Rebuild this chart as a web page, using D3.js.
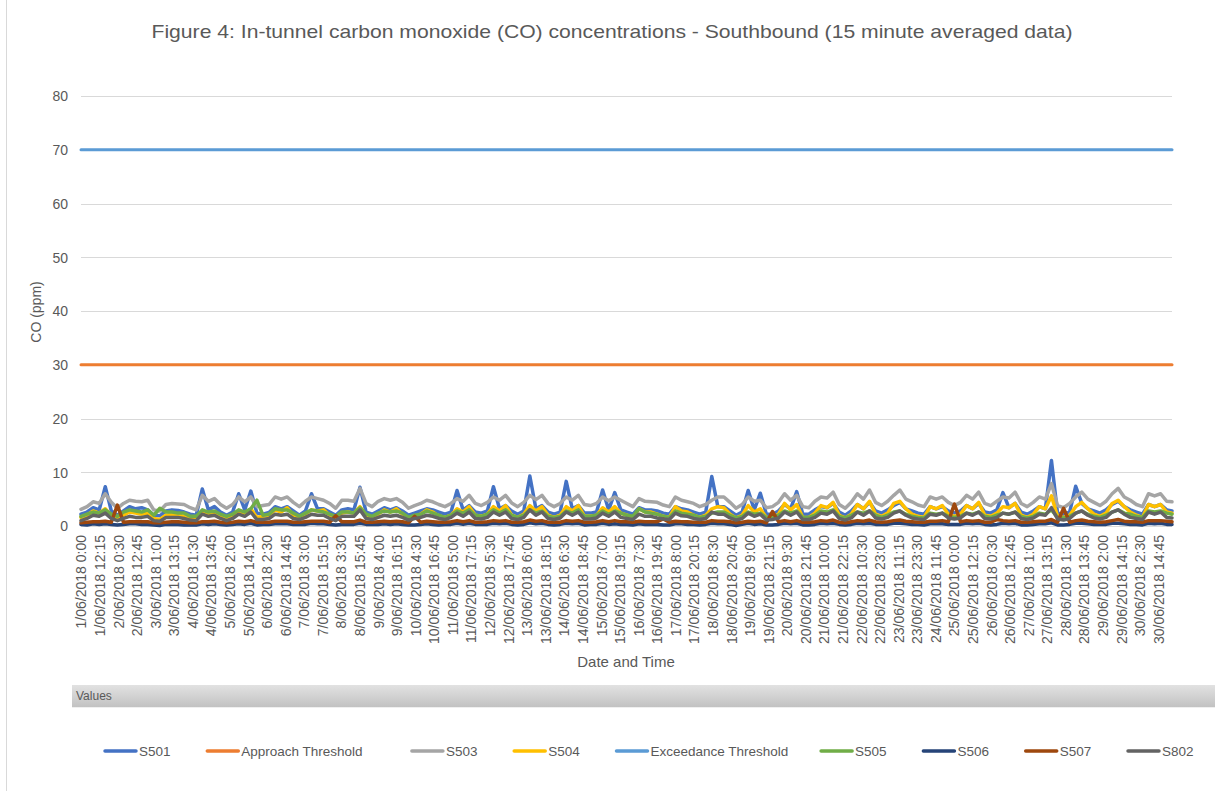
<!DOCTYPE html>
<html>
<head>
<meta charset="utf-8">
<script src="https://cdnjs.cloudflare.com/ajax/libs/d3/7.8.5/d3.min.js"></script>
<style>
    body { margin: 0; background: #fff; }
    text { font-family: "Liberation Sans", Arial, sans-serif; fill: #595959; }
</style>
</head>
<body>
<div id="chart"></div>
<script>
// x axis tick labels (one every 49 samples of 15 minutes)
var tickLabels = [
    "1/06/2018 0:00", "1/06/2018 12:15", "2/06/2018 0:30", "2/06/2018 12:45", "3/06/2018 1:00",
    "3/06/2018 13:15", "4/06/2018 1:30", "4/06/2018 13:45", "5/06/2018 2:00", "5/06/2018 14:15",
    "6/06/2018 2:30", "6/06/2018 14:45", "7/06/2018 3:00", "7/06/2018 15:15", "8/06/2018 3:30",
    "8/06/2018 15:45", "9/06/2018 4:00", "9/06/2018 16:15", "10/06/2018 4:30", "10/06/2018 16:45",
    "11/06/2018 5:00", "11/06/2018 17:15", "12/06/2018 5:30", "12/06/2018 17:45", "13/06/2018 6:00",
    "13/06/2018 18:15", "14/06/2018 6:30", "14/06/2018 18:45", "15/06/2018 7:00", "15/06/2018 19:15",
    "16/06/2018 7:30", "16/06/2018 19:45", "17/06/2018 8:00", "17/06/2018 20:15", "18/06/2018 8:30",
    "18/06/2018 20:45", "19/06/2018 9:00", "19/06/2018 21:15", "20/06/2018 9:30", "20/06/2018 21:45",
    "21/06/2018 10:00", "21/06/2018 22:15", "22/06/2018 10:30", "22/06/2018 23:00", "23/06/2018 11:15",
    "23/06/2018 23:30", "24/06/2018 11:45", "25/06/2018 0:00", "25/06/2018 12:15", "26/06/2018 0:30",
    "26/06/2018 12:45", "27/06/2018 1:00", "27/06/2018 13:15", "28/06/2018 1:30", "28/06/2018 13:45",
    "29/06/2018 2:00", "29/06/2018 14:15", "30/06/2018 2:30", "30/06/2018 14:45"
];
var yTicks = [0, 10, 20, 30, 40, 50, 60, 70, 80];

// readings every 4 hours (0:00, 4:00, 8:00, 12:00, 16:00, 20:00), 1 June 0:00 to 30 June end
var stepHours = 4;
var s501 = [
    2.2, 2.6, 3.4, 3.0, 7.3, 2.8,  2.0, 2.8, 3.6, 3.2, 3.4, 3.0,  2.0, 1.9, 2.8, 3.0, 2.9, 2.6,
    2.2, 2.0, 6.9, 3.0, 3.6, 2.6,  2.0, 2.6, 6.0, 3.0, 6.5, 2.4,  2.2, 2.5, 3.6, 3.2, 3.6, 2.8,
    2.0, 2.8, 6.0, 3.2, 3.2, 2.6,  2.0, 3.0, 3.2, 3.0, 7.2, 2.6,  2.2, 2.8, 3.4, 3.0, 3.4, 2.8,
    2.0, 2.4, 2.8, 3.2, 3.0, 2.6,  2.2, 2.6, 6.6, 3.0, 3.8, 2.6,  2.4, 2.8, 7.3, 3.2, 3.8, 2.8,
    2.2, 2.8, 9.3, 3.2, 3.8, 2.6,  2.2, 2.6, 8.3, 3.2, 3.8, 2.4,  2.4, 2.6, 6.7, 3.0, 6.2, 3.0,
    2.6, 2.2, 3.4, 3.0, 3.0, 2.8,  2.4, 2.2, 3.6, 3.2, 3.0, 2.6,  2.2, 2.6, 9.2, 3.6, 3.6, 2.8,
    2.0, 2.6, 6.6, 3.0, 6.1, 2.2,  2.2, 2.8, 4.0, 3.2, 6.4, 2.2,  2.2, 3.0, 3.6, 3.4, 4.2, 2.6,
    2.0, 2.8, 4.0, 3.2, 4.4, 2.8,  2.4, 3.0, 3.8, 4.4, 3.2, 2.8,  2.4, 2.2, 3.6, 3.2, 3.6, 2.8,
    2.4, 2.8, 3.8, 3.2, 4.2, 2.6,  2.4, 3.0, 6.2, 3.4, 4.2, 2.6,  2.2, 2.8, 3.6, 3.2, 12.2, 2.4,
    2.2, 2.6, 7.4, 4.2, 3.2, 2.8,  2.4, 3.0, 4.0, 4.6, 3.6, 3.0,  2.6, 2.2, 4.0, 3.6, 4.0, 3.0,
    2.8
];
var s503 = [
    3.1, 3.6, 4.5, 4.2, 6.0, 4.4,  3.3, 4.2, 4.8, 4.6, 4.5, 4.8,  3.0, 2.8, 4.0, 4.2, 4.1, 4.0,
    3.4, 3.0, 5.7, 4.6, 5.1, 4.0,  3.3, 4.0, 5.4, 4.5, 5.4, 3.6,  3.8, 4.0, 5.4, 5.0, 5.4, 4.4,
    3.6, 4.6, 5.4, 5.1, 4.8, 4.2,  3.3, 4.8, 4.8, 4.6, 7.0, 4.2,  3.6, 4.6, 5.1, 4.8, 5.1, 4.4,
    3.3, 3.8, 4.2, 4.8, 4.5, 4.0,  3.6, 4.2, 5.1, 4.6, 5.7, 4.2,  3.8, 4.4, 5.4, 4.8, 5.7, 4.3,
    3.6, 4.4, 5.7, 4.9, 5.7, 4.2,  3.6, 4.2, 5.4, 4.8, 5.7, 4.0,  3.8, 4.2, 5.4, 4.7, 5.4, 4.8,
    4.2, 3.6, 5.1, 4.6, 4.5, 4.4,  3.9, 3.6, 5.4, 4.8, 4.5, 4.2,  3.6, 4.0, 4.8, 5.4, 5.4, 4.4,
    3.3, 4.0, 5.4, 4.6, 4.8, 3.4,  3.6, 4.4, 6.0, 4.8, 5.7, 3.6,  3.4, 4.6, 5.4, 5.2, 6.3, 4.0,
    3.3, 4.4, 6.0, 5.0, 6.7, 4.4,  3.8, 4.6, 5.7, 6.7, 5.0, 4.5,  3.9, 3.6, 5.4, 5.0, 5.4, 4.4,
    3.8, 4.4, 5.7, 5.0, 6.3, 4.2,  3.8, 4.6, 5.4, 5.2, 6.3, 4.2,  3.6, 4.4, 5.4, 5.0, 7.9, 3.8,
    3.4, 4.2, 5.4, 6.3, 5.0, 4.4,  3.8, 4.6, 6.0, 7.0, 5.4, 4.8,  4.0, 3.6, 6.0, 5.6, 6.0, 4.6,
    4.5
];
var s504 = [
    1.6, 2.0, 2.8, 2.4, 3.2, 2.0,  1.4, 2.0, 2.6, 2.4, 2.2, 2.4,  1.4, 1.2, 2.0, 2.2, 2.0, 1.8,
    1.6, 1.4, 2.8, 2.2, 2.6, 1.8,  1.6, 2.0, 2.8, 2.2, 3.2, 1.6,  1.8, 2.0, 3.0, 2.6, 3.4, 2.0,
    1.6, 2.2, 3.0, 2.8, 3.0, 2.0,  1.5, 2.4, 2.6, 2.4, 3.6, 2.0,  1.6, 2.2, 3.0, 2.6, 3.2, 2.2,
    1.5, 1.8, 2.2, 3.0, 2.6, 1.8,  1.6, 2.0, 3.2, 2.6, 3.6, 2.0,  1.8, 2.2, 3.6, 2.8, 3.8, 2.0,
    1.6, 2.2, 3.8, 2.8, 3.6, 2.0,  1.6, 2.0, 3.6, 2.8, 3.8, 1.8,  1.8, 2.0, 3.4, 2.6, 3.6, 2.4,
    2.0, 1.6, 3.2, 2.6, 2.6, 2.2,  1.8, 1.6, 3.6, 2.8, 2.6, 2.0,  1.6, 2.0, 3.2, 3.6, 3.4, 2.2,
    1.5, 2.0, 3.8, 2.6, 3.2, 1.6,  1.6, 2.2, 4.2, 3.0, 4.0, 1.6,  1.6, 2.4, 3.8, 3.4, 4.4, 2.0,
    1.5, 2.2, 4.0, 3.2, 4.6, 2.2,  1.8, 2.4, 4.2, 4.6, 3.2, 2.2,  1.8, 1.6, 3.6, 3.2, 3.8, 2.2,
    1.8, 2.2, 3.8, 3.2, 4.4, 2.0,  1.8, 2.4, 3.6, 3.4, 4.2, 2.0,  1.6, 2.2, 3.6, 3.2, 5.6, 1.8,
    1.6, 2.0, 3.6, 4.4, 3.2, 2.2,  1.8, 2.4, 4.2, 4.8, 3.6, 2.6,  2.0, 1.6, 4.0, 3.6, 4.0, 2.6,
    2.4
];
var s505 = [
    1.8, 2.2, 2.6, 2.4, 3.0, 2.2,  1.8, 2.6, 3.0, 2.8, 2.6, 3.0,  2.0, 3.3, 2.6, 2.6, 2.4, 2.4,
    1.8, 1.8, 3.0, 2.6, 2.8, 2.2,  1.8, 2.2, 3.0, 2.6, 3.2, 4.8,  2.0, 2.2, 3.2, 3.0, 3.0, 2.4,
    1.8, 2.4, 3.0, 2.8, 2.6, 2.2,  1.8, 2.6, 2.6, 2.4, 3.4, 2.2,  1.8, 2.4, 2.8, 2.6, 2.8, 2.4,
    1.6, 2.0, 2.2, 2.8, 2.4, 2.0,  1.6, 2.0, 2.8, 2.4, 3.0, 2.0,  1.8, 2.2, 3.0, 2.4, 3.0, 2.0,
    1.6, 2.0, 3.0, 2.4, 2.8, 1.8,  1.6, 1.8, 2.8, 2.4, 3.0, 1.8,  1.8, 2.0, 2.8, 2.2, 2.8, 2.4,
    2.0, 1.8, 3.2, 2.6, 2.4, 2.2,  1.8, 1.6, 2.8, 2.4, 2.2, 2.0,  1.6, 1.8, 2.4, 2.6, 2.6, 2.0,
    1.5, 1.8, 2.6, 2.2, 2.4, 1.6,  1.6, 2.0, 2.8, 2.4, 2.8, 1.6,  1.6, 2.0, 2.8, 2.6, 3.0, 1.8,
    1.5, 2.0, 2.6, 2.4, 2.8, 2.0,  1.6, 2.0, 2.6, 2.8, 2.2, 1.8,  1.6, 1.5, 2.4, 2.2, 2.4, 1.8,
    1.6, 1.8, 2.4, 2.2, 2.6, 1.8,  1.6, 2.0, 2.4, 2.2, 2.6, 1.8,  1.5, 1.8, 2.4, 2.2, 3.0, 1.6,
    1.5, 1.8, 2.4, 2.8, 2.2, 1.8,  1.6, 2.0, 2.6, 3.0, 2.4, 2.2,  1.8, 1.6, 2.8, 2.6, 2.8, 2.4,
    2.2
];
var s506 = [
    0.3, 0.2, 0.4, 0.3, 0.4, 0.3,  0.2, 0.3, 0.4, 0.4, 0.3, 0.3,  0.2, 0.1, 0.3, 0.3, 0.3, 0.2,
    0.2, 0.2, 0.4, 0.3, 0.4, 0.3,  0.2, 0.3, 0.4, 0.3, 0.5, 0.2,  0.3, 0.3, 0.4, 0.4, 0.4, 0.3,
    0.3, 0.3, 0.5, 0.4, 0.4, 0.3,  0.2, 0.3, 0.3, 0.3, 0.5, 0.3,  0.3, 0.3, 0.4, 0.3, 0.4, 0.3,
    0.2, 0.2, 0.3, 0.4, 0.3, 0.2,  0.3, 0.3, 0.5, 0.3, 0.5, 0.3,  0.3, 0.3, 0.5, 0.4, 0.5, 0.3,
    0.2, 0.3, 0.6, 0.4, 0.5, 0.3,  0.2, 0.3, 0.5, 0.4, 0.5, 0.2,  0.3, 0.3, 0.5, 0.3, 0.4, 0.3,
    0.3, 0.2, 0.4, 0.3, 0.3, 0.3,  0.2, 0.2, 0.4, 0.4, 0.3, 0.3,  0.2, 0.3, 0.5, 0.4, 0.4, 0.3,
    0.1, 0.3, 0.5, 0.3, 0.4, 0.2,  0.2, 0.3, 0.5, 0.4, 0.5, 0.2,  0.2, 0.3, 0.5, 0.4, 0.5, 0.3,
    0.2, 0.3, 0.5, 0.4, 0.5, 0.3,  0.3, 0.3, 0.5, 0.5, 0.4, 0.3,  0.3, 0.2, 0.4, 0.4, 0.4, 0.3,
    0.3, 0.3, 0.5, 0.4, 0.5, 0.3,  0.2, 0.3, 0.5, 0.4, 0.5, 0.2,  0.2, 0.3, 0.4, 0.4, 0.6, 0.2,
    0.2, 0.3, 0.5, 0.5, 0.4, 0.3,  0.3, 0.3, 0.5, 0.5, 0.4, 0.3,  0.3, 0.2, 0.5, 0.4, 0.5, 0.3,
    0.3
];
var s507 = [
    0.6, 0.7, 0.8, 0.8, 0.9, 0.7,  3.9, 0.7, 0.8, 0.8, 0.8, 0.8,  0.6, 0.6, 0.7, 0.8, 0.8, 0.7,
    0.6, 0.6, 0.8, 0.8, 0.9, 0.7,  0.6, 0.7, 0.9, 0.8, 1.0, 0.7,  0.7, 0.7, 0.9, 0.9, 0.9, 0.7,
    0.7, 0.8, 0.9, 0.9, 0.9, 0.7,  1.9, 0.8, 0.8, 0.8, 1.1, 0.7,  0.7, 0.8, 0.9, 0.8, 0.9, 0.8,
    0.6, 1.8, 0.7, 0.9, 0.8, 0.7,  0.7, 0.8, 1.0, 0.8, 1.0, 0.7,  0.7, 0.8, 1.0, 0.9, 1.0, 0.7,
    0.7, 0.8, 1.1, 0.9, 1.0, 0.7,  0.7, 0.7, 1.0, 0.9, 1.0, 0.7,  0.7, 0.8, 1.0, 0.8, 1.0, 0.8,
    0.8, 0.7, 0.9, 0.8, 0.8, 0.8,  1.3, 0.7, 0.9, 0.8, 0.8, 0.7,  0.7, 0.7, 1.0, 0.9, 0.9, 0.8,
    0.6, 0.7, 0.9, 0.8, 0.9, 0.6,  2.7, 0.8, 1.0, 0.8, 1.0, 0.7,  0.7, 0.8, 1.0, 0.9, 1.1, 0.7,
    0.6, 0.8, 1.0, 0.9, 1.1, 0.8,  0.7, 0.8, 1.0, 1.1, 0.9, 0.8,  0.7, 0.7, 0.9, 0.9, 1.0, 0.8,
    4.1, 0.8, 1.0, 0.9, 1.0, 0.7,  0.7, 1.2, 1.0, 0.9, 1.0, 0.7,  0.7, 0.8, 0.9, 0.9, 1.2, 0.7,
    3.3, 0.7, 1.0, 1.1, 0.9, 0.8,  0.7, 0.8, 1.0, 1.2, 0.9, 0.8,  0.8, 0.7, 1.0, 1.0, 1.0, 0.9,
    0.8
];
var s802 = [
    1.0, 1.4, 2.0, 1.8, 2.4, 1.4,  1.0, 1.4, 1.8, 1.6, 1.6, 1.8,  1.0, 0.9, 1.6, 1.6, 1.6, 1.4,
    1.1, 1.0, 2.2, 1.8, 2.0, 1.4,  1.0, 1.4, 2.2, 1.8, 2.6, 1.2,  1.2, 1.4, 2.2, 2.0, 2.2, 1.4,
    1.2, 1.6, 2.2, 2.0, 2.0, 1.4,  1.0, 1.8, 1.8, 1.8, 3.0, 1.4,  1.2, 1.6, 2.0, 1.8, 2.0, 1.6,
    1.1, 1.4, 1.6, 2.0, 1.8, 1.4,  1.2, 1.6, 2.4, 1.8, 2.6, 1.4,  1.3, 1.6, 2.6, 2.0, 2.6, 1.4,
    1.2, 1.6, 3.0, 2.0, 2.6, 1.4,  1.2, 1.5, 2.6, 2.0, 2.6, 1.3,  1.3, 1.5, 2.4, 1.8, 2.6, 1.6,
    1.4, 1.2, 2.2, 1.8, 1.8, 1.5,  1.3, 1.2, 2.4, 1.9, 1.8, 1.4,  1.2, 1.4, 2.6, 2.2, 2.2, 1.5,
    1.1, 1.4, 2.4, 1.8, 2.2, 1.1,  1.2, 1.5, 2.6, 2.0, 2.6, 1.2,  1.2, 1.6, 2.4, 2.2, 2.8, 1.4,
    1.1, 1.5, 2.6, 2.0, 2.8, 1.5,  1.3, 1.6, 2.4, 2.8, 2.0, 1.5,  1.3, 1.2, 2.2, 2.0, 2.4, 1.5,
    1.3, 1.5, 2.4, 2.0, 2.6, 1.4,  1.3, 1.6, 2.4, 2.2, 2.6, 1.4,  1.2, 1.5, 2.2, 2.0, 3.4, 1.3,
    1.1, 1.4, 2.4, 2.8, 2.0, 1.5,  1.3, 1.6, 2.6, 3.0, 2.2, 1.6,  1.4, 1.2, 2.6, 2.2, 2.6, 1.6,
    1.5
];
var approachThreshold = 30;
var exceedanceThreshold = 70;

var seriesNames = ["S501", "Approach Threshold", "S503", "S504", "Exceedance Threshold", "S505", "S506", "S507", "S802"];
var seriesColors = ["#4472C4", "#ED7D31", "#A5A5A5", "#FFC000", "#5B9BD5", "#70AD47", "#264478", "#9E480E", "#636363"];

var width = 1215, height = 791;
var totalHours = 719.5;
var hoursPerTick = 12.25;

var svg = d3.select("#chart").append("svg").attr("width", width).attr("height", height);

// chart area border
svg.append("rect").attr("x", 6.5).attr("y", -2).attr("width", width + 10).attr("height", height + 4)
    .attr("fill", "#fff").attr("stroke", "#d9d9d9");

var x = d3.scaleLinear().domain([0, totalHours]).range([81, 1172]);
var y = d3.scaleLinear().domain([0, 80]).range([526, 96]);

// title
svg.append("text").attr("x", 612).attr("y", 38).attr("text-anchor", "middle")
    .attr("textLength", 921).attr("lengthAdjust", "spacingAndGlyphs")
    .style("font-size", "19px")
    .text("Figure 4: In-tunnel carbon monoxide (CO) concentrations - Southbound (15 minute averaged data)");

// gridlines
svg.append("g").selectAll("line").data(yTicks).enter().append("line")
    .attr("x1", x(0)).attr("x2", x(totalHours))
    .attr("y1", function (d) { return Math.round(y(d)) + 0.5; })
    .attr("y2", function (d) { return Math.round(y(d)) + 0.5; })
    .attr("stroke", "#d9d9d9").attr("stroke-width", 1);

// y axis
var yAxis = d3.axisLeft(y).tickValues(yTicks).tickSize(0).tickPadding(0);
var yg = svg.append("g").attr("transform", "translate(68,0)").call(yAxis);
yg.select(".domain").remove();
yg.selectAll("text").style("font-size", "14px").attr("fill", "#595959").attr("dy", "0.35em");

svg.append("text").attr("transform", "translate(41,312) rotate(-90)").attr("text-anchor", "middle")
    .style("font-size", "14px").text("CO (ppm)");

// x axis labels
var xAxis = d3.axisBottom(x)
    .tickValues(tickLabels.map(function (d, i) { return i * hoursPerTick; }))
    .tickFormat(function (d, i) { return tickLabels[i]; })
    .tickSize(0);
var xg = svg.append("g").attr("transform", "translate(0,535)").call(xAxis);
xg.select(".domain").remove();
xg.selectAll("text")
    .attr("transform", "rotate(-90)").attr("x", 0).attr("y", 0).attr("dy", "0.35em")
    .attr("text-anchor", "end").style("font-size", "14px").attr("fill", "#595959");

svg.append("text").attr("x", 626).attr("y", 667).attr("text-anchor", "middle")
    .style("font-size", "15px").text("Date and Time");

// series
var line = d3.line()
    .x(function (d, i) { return x(Math.min(i * stepHours, totalHours)); })
    .y(function (d) { return y(d); });
var flatLine = d3.line()
    .x(function (d, i) { return x(i * totalHours); })
    .y(function (d) { return y(d); });

var seriesData = [s501, [approachThreshold, approachThreshold], s503, s504,
    [exceedanceThreshold, exceedanceThreshold], s505, s506, s507, s802];

var plot = svg.append("g");
seriesData.forEach(function (values, k) {
    var isThreshold = values.length === 2;
    plot.append("path").datum(values)
        .attr("d", isThreshold ? flatLine : line)
        .attr("fill", "none")
        .attr("stroke", seriesColors[k])
        .attr("stroke-width", isThreshold ? 3 : 3.5)
        .attr("stroke-linejoin", "round")
        .attr("stroke-linecap", "round");
});

// "Values" field bar
var defs = svg.append("defs");
var grad = defs.append("linearGradient").attr("id", "barGrad").attr("x1", 0).attr("y1", 0).attr("x2", 0).attr("y2", 1);
grad.append("stop").attr("offset", "0%").attr("stop-color", "#e2e2e2");
grad.append("stop").attr("offset", "100%").attr("stop-color", "#c2c2c2");
svg.append("rect").attr("x", 72).attr("y", 685).attr("width", width - 72).attr("height", 22).attr("fill", "url(#barGrad)");
svg.append("line").attr("x1", 72).attr("x2", width).attr("y1", 707.5).attr("y2", 707.5).attr("stroke", "#efefef");
svg.append("text").attr("x", 76).attr("y", 700).style("font-size", "12px").attr("fill", "#303030").text("Values");

// legend
var legend = svg.append("g").attr("transform", "translate(104,751)");
var colWidth = 102.3;
var cursor = 0;
seriesNames.forEach(function (name, k) {
    var item = legend.append("g").attr("transform", "translate(" + cursor + ",0)");
    item.append("line").attr("x1", 1).attr("x2", 32).attr("y1", 0).attr("y2", 0)
        .attr("stroke", seriesColors[k]).attr("stroke-width", 3.5).attr("stroke-linecap", "round");
    var label = item.append("text").attr("x", 35).attr("dy", "0.35em").style("font-size", "13.5px").text(name);
    var w = 35 + label.node().getComputedTextLength() + 6;
    cursor += Math.ceil(w / colWidth) * colWidth;
});
</script>
</body>
</html>
